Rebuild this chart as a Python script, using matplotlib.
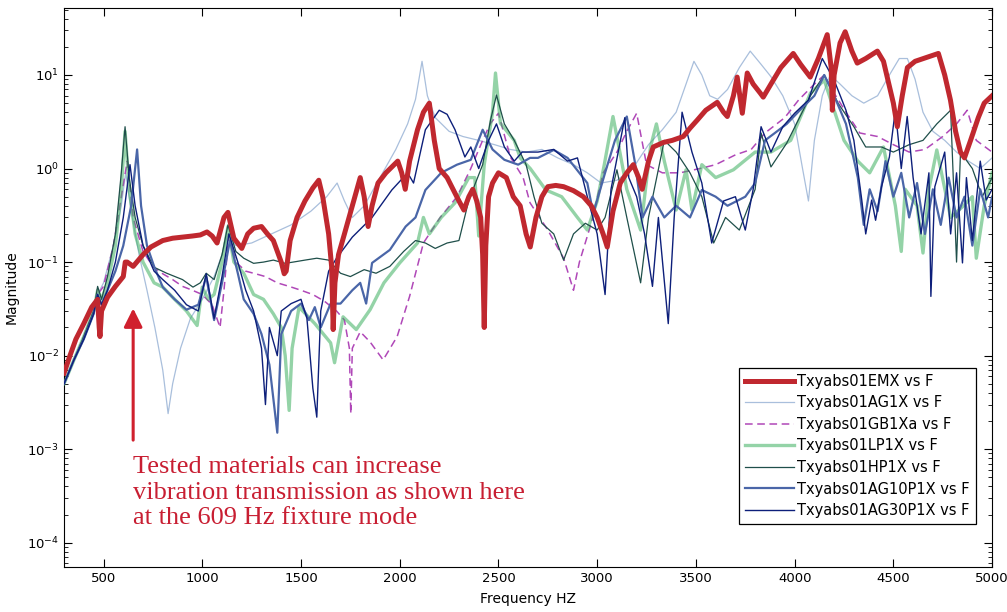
import matplotlib
matplotlib.use("Agg")
import matplotlib.pyplot as plt
from matplotlib.ticker import FixedLocator, LogLocator, NullFormatter

# ---------------- data ----------------
labels = ["Txyabs01EMX vs F", "Txyabs01AG1X vs F", "Txyabs01GB1Xa vs F",
          "Txyabs01LP1X vs F", "Txyabs01HP1X vs F", "Txyabs01AG10P1X vs F",
          "Txyabs01AG30P1X vs F"]

f_emx = [300, 330, 360, 400, 440, 470, 478, 482, 490, 520, 560, 600, 610, 620, 650, 700, 740, 800, 850, 900,
         950, 990, 1024, 1050, 1075, 1110, 1130, 1160, 1200, 1230, 1260, 1300, 1330, 1360, 1380, 1400, 1415,
         1425, 1445, 1480, 1520, 1560, 1590, 1610, 1640, 1655, 1663, 1672, 1690, 1720, 1760, 1800, 1820, 1840,
         1860, 1890, 1930, 1990, 2010, 2028, 2050, 2090, 2120, 2150, 2175, 2200, 2240, 2270, 2300, 2325, 2350,
         2370, 2390, 2410, 2420, 2428, 2436, 2450, 2470, 2500, 2540, 2575, 2610, 2640, 2661, 2690, 2720, 2750,
         2790, 2830, 2880, 2930, 2970, 3000, 3030, 3051, 3080, 3117, 3150, 3183, 3210, 3228, 3260, 3284, 3335,
         3380, 3436, 3470, 3507, 3550, 3608, 3640, 3659, 3690, 3709, 3735, 3760, 3790, 3826, 3841, 3880, 3930,
         3993, 4030, 4079, 4120, 4165, 4185, 4191, 4200, 4230, 4256, 4290, 4317, 4360, 4419, 4450, 4469, 4500,
         4520, 4545, 4571, 4610, 4652, 4690, 4728, 4760, 4789, 4815, 4840, 4860, 4891, 4930, 4960, 5000]
m_emx = [0.0065, 0.01, 0.015, 0.022, 0.033, 0.04, 0.02, 0.016, 0.03, 0.042, 0.055, 0.07, 0.1, 0.1, 0.09, 0.12,
         0.145, 0.17, 0.18, 0.185, 0.19, 0.195, 0.21, 0.19, 0.16, 0.3, 0.34, 0.18, 0.14, 0.2, 0.23, 0.24, 0.2,
         0.17, 0.13, 0.1, 0.075, 0.08, 0.17, 0.3, 0.45, 0.62, 0.75, 0.5, 0.2, 0.09, 0.019, 0.06, 0.12, 0.2, 0.4,
         0.8, 0.5, 0.24, 0.4, 0.7, 0.9, 1.2, 0.9, 0.6, 1.2, 2.6, 4.0, 5.0, 2.0, 1.0, 0.8, 0.6, 0.45, 0.36, 0.5,
         0.6, 0.45, 0.3, 0.12, 0.02, 0.15, 0.5, 0.7, 0.9, 0.8, 0.5, 0.4, 0.2, 0.145, 0.3, 0.5, 0.64, 0.66, 0.64,
         0.58, 0.5, 0.4, 0.3, 0.2, 0.145, 0.35, 0.7, 0.9, 1.1, 0.8, 0.6, 1.2, 1.7, 1.9, 2.0, 2.2, 2.7, 3.3, 4.2,
         5.1, 4.0, 3.6, 6.0, 9.5, 3.9, 10.5, 8.0, 6.4, 5.8, 8.0, 12.0, 17.0, 13.0, 9.5, 15.0, 27.0, 12.0, 4.2,
         10.0, 22.0, 29.0, 18.0, 13.4, 15.0, 18.0, 14.0, 9.5, 5.0, 2.8, 6.0, 12.0, 14.0, 15.0, 16.0, 17.0, 10.0,
         5.4, 2.5, 1.5, 1.3, 2.0, 3.5, 5.0, 6.0]

f_ag1 = [300, 350, 400, 450, 470, 500, 550, 590, 612, 640, 680, 720, 760, 800, 827, 850, 890, 940, 1000, 1060,
         1100, 1130, 1170, 1250, 1350, 1450, 1550, 1630, 1683, 1720, 1760, 1820, 1900, 1980, 2040, 2080, 2113,
         2140, 2180, 2250, 2320, 2400, 2480, 2560, 2640, 2720, 2800, 2880, 2950, 3020, 3100, 3180, 3260, 3330,
         3400, 3450, 3490, 3530, 3570, 3610, 3660, 3720, 3775, 3830, 3880, 3940, 4000, 4040, 4070, 4100, 4140,
         4180, 4230, 4290, 4350, 4420, 4480, 4530, 4571, 4610, 4650, 4700, 4760, 4820, 4880, 4940, 5000]
m_ag1 = [0.005, 0.009, 0.016, 0.03, 0.045, 0.06, 0.15, 0.4, 0.9, 0.35, 0.12, 0.05, 0.02, 0.007, 0.0024, 0.005,
         0.012, 0.025, 0.04, 0.07, 0.12, 0.2, 0.15, 0.16, 0.2, 0.25, 0.35, 0.5, 0.7, 0.45, 0.3, 0.4, 0.8, 1.6,
         3.0, 5.5, 14.0, 6.0, 3.5, 2.5, 2.2, 2.0, 1.8, 1.6, 1.5, 1.6, 1.3, 1.1, 0.9, 0.7, 0.75, 1.0, 1.8, 2.6,
         4.0, 8.0, 14.0, 10.0, 6.0, 5.5, 7.0, 12.0, 18.0, 13.0, 9.6, 6.0, 3.0, 1.0, 0.45, 2.0, 6.0, 10.0, 8.0,
         6.0, 5.0, 6.0, 10.0, 15.0, 15.0, 9.0, 4.0, 2.5, 2.0, 1.5, 1.2, 1.0, 1.3]

f_gb1 = [300, 350, 400, 450, 470, 500, 550, 590, 620, 650, 700, 750, 800, 850, 900, 950, 1000, 1050, 1090, 1110,
         1135, 1170, 1220, 1270, 1320, 1380, 1440, 1500, 1560, 1620, 1680, 1720, 1745, 1752, 1760, 1800, 1850,
         1916, 1987, 2050, 2120, 2205, 2290, 2357, 2420, 2458, 2500, 2560, 2625, 2660, 2750, 2830, 2880, 2910,
         2970, 3030, 3100, 3150, 3200, 3250, 3330, 3420, 3520, 3600, 3700, 3780, 3850, 3950, 4020, 4100, 4150,
         4200, 4260, 4330, 4420, 4500, 4580, 4660, 4750, 4820, 4874, 4920, 5000]
m_gb1 = [0.005, 0.009, 0.016, 0.03, 0.045, 0.055, 0.15, 0.5, 1.2, 0.3, 0.13, 0.09, 0.075, 0.065, 0.055, 0.05,
         0.045, 0.035, 0.02, 0.05, 0.2, 0.1, 0.08, 0.075, 0.07, 0.06, 0.055, 0.05, 0.045, 0.038, 0.03, 0.024,
         0.012, 0.0024, 0.012, 0.018, 0.014, 0.009, 0.016, 0.043, 0.16, 0.3, 0.5, 0.97, 2.0, 3.0, 3.9, 1.33,
         0.8, 0.43, 0.22, 0.11, 0.05, 0.1, 0.26, 0.9, 1.5, 2.5, 3.9, 1.1, 0.9, 0.9, 1.0, 1.1, 1.4, 1.6, 2.4,
         3.5, 5.4, 8.0, 10.0, 6.4, 4.0, 2.4, 2.2, 1.8, 1.5, 1.6, 2.2, 3.0, 4.2, 2.0, 1.5]

f_lp1 = [300, 350, 400, 450, 470, 490, 520, 560, 590, 609, 630, 660, 700, 756, 800, 860, 920, 974, 1000, 1030,
         1060, 1100, 1130, 1160, 1210, 1260, 1310, 1360, 1400, 1420, 1440, 1455, 1490, 1570, 1650, 1670, 1713,
         1780, 1850, 1920, 2000, 2090, 2120, 2150, 2210, 2280, 2350, 2380, 2400, 2428, 2470, 2485, 2510, 2580,
         2610, 2661, 2740, 2820, 2900, 2950, 3000, 3036, 3080, 3110, 3150, 3220, 3270, 3300, 3340, 3400, 3450,
         3480, 3530, 3600, 3690, 3800, 3880, 3980, 4080, 4150, 4250, 4320, 4380, 4450, 4510, 4540, 4560, 4620,
         4650, 4680, 4720, 4790, 4850, 4900, 4920, 4960, 5000]
m_lp1 = [0.005, 0.009, 0.016, 0.03, 0.05, 0.04, 0.06, 0.15, 0.6, 2.5, 0.6, 0.2, 0.1, 0.06, 0.054, 0.04, 0.03,
         0.021, 0.054, 0.04, 0.045, 0.1, 0.24, 0.1, 0.076, 0.045, 0.04, 0.028, 0.02, 0.01, 0.0026, 0.012, 0.033,
         0.022, 0.0137, 0.0084, 0.026, 0.019, 0.031, 0.06, 0.098, 0.16, 0.3, 0.2, 0.3, 0.43, 0.8, 0.8, 0.19, 1.1,
         4.0, 10.5, 3.05, 2.0, 1.3, 1.0, 0.59, 0.5, 0.3, 0.22, 0.45, 1.1, 3.6, 1.7, 0.6, 0.22, 1.7, 3.0, 1.2,
         0.36, 0.97, 0.36, 1.1, 0.8, 0.97, 1.5, 1.5, 2.0, 6.4, 8.8, 2.0, 1.2, 0.9, 1.7, 0.4, 0.13, 0.6, 0.4,
         0.125, 0.6, 1.58, 0.3, 0.39, 0.5, 0.11, 0.4, 0.9]

f_hp1 = [300, 350, 400, 450, 470, 490, 520, 560, 590, 609, 630, 660, 700, 756, 820, 900, 953, 990, 1020, 1060,
         1100, 1130, 1170, 1210, 1260, 1310, 1360, 1420, 1460, 1520, 1580, 1640, 1700, 1750, 1820, 1880, 1950,
         2020, 2080, 2130, 2180, 2240, 2300, 2350, 2420, 2460, 2490, 2530, 2580, 2640, 2680, 2720, 2780, 2830,
         2880, 2940, 3000, 3040, 3100, 3150, 3220, 3260, 3340, 3400, 3470, 3530, 3590, 3650, 3720, 3800, 3830,
         3880, 3960, 4080, 4150, 4220, 4300, 4360, 4440, 4500, 4580, 4650, 4720, 4790, 4820, 4840, 4900, 4950,
         5000]
m_hp1 = [0.005, 0.009, 0.016, 0.03, 0.055, 0.04, 0.07, 0.2, 0.9, 2.8, 0.8, 0.3, 0.15, 0.088, 0.076, 0.065,
         0.054, 0.06, 0.076, 0.065, 0.12, 0.25, 0.13, 0.11, 0.097, 0.1, 0.105, 0.097, 0.1, 0.105, 0.11, 0.105,
         0.076, 0.07, 0.083, 0.076, 0.09, 0.13, 0.17, 0.16, 0.14, 0.16, 0.17, 0.46, 1.1, 3.3, 6.1, 3.0, 2.0, 1.1,
         0.5, 0.26, 0.2, 0.105, 0.2, 0.26, 0.22, 0.3, 0.97, 0.3, 0.06, 0.3, 2.0, 1.5, 0.9, 0.5, 0.16, 0.3, 0.22,
         0.6, 2.4, 1.04, 1.87, 6.0, 10.0, 5.0, 2.8, 1.7, 1.7, 1.5, 1.8, 2.0, 3.0, 4.2, 0.1, 1.5, 1.0, 0.5, 0.8]

f_ag10 = [300, 350, 400, 450, 470, 490, 520, 560, 600, 640, 670, 690, 720, 756, 800, 860, 920, 980, 1020, 1060,
          1100, 1140, 1180, 1210, 1260, 1300, 1340, 1380, 1400, 1450, 1500, 1540, 1570, 1600, 1650, 1700, 1760,
          1800, 1830, 1860, 1950, 2030, 2080, 2130, 2210, 2290, 2360, 2420, 2470, 2530, 2600, 2660, 2700, 2780,
          2850, 2950, 2980, 3040, 3090, 3150, 3190, 3230, 3280, 3340, 3400, 3470, 3530, 3600, 3660, 3750, 3800,
          3850, 3900, 3960, 4040, 4100, 4150, 4200, 4260, 4320, 4350, 4380, 4420, 4460, 4500, 4540, 4580, 4620,
          4660, 4700, 4740, 4780, 4820, 4860, 4900, 4940, 4980, 5000]
m_ag10 = [0.005, 0.009, 0.015, 0.028, 0.045, 0.035, 0.05, 0.08, 0.15, 0.4, 1.6, 0.4, 0.15, 0.09, 0.054, 0.04,
          0.031, 0.035, 0.07, 0.024, 0.06, 0.17, 0.076, 0.04, 0.028, 0.017, 0.008, 0.0015, 0.017, 0.03, 0.036,
          0.024, 0.033, 0.02, 0.036, 0.036, 0.05, 0.06, 0.036, 0.098, 0.135, 0.24, 0.3, 0.59, 0.9, 1.1, 1.24,
          2.6, 1.6, 1.24, 1.1, 1.3, 1.3, 1.58, 1.3, 0.7, 0.33, 0.9, 2.0, 3.6, 1.2, 0.3, 0.5, 0.3, 0.4, 0.3,
          0.59, 0.5, 0.4, 0.5, 0.7, 2.0, 2.4, 3.0, 4.5, 6.0, 10.0, 6.0, 3.0, 0.8, 0.25, 0.6, 0.35, 1.2, 0.5,
          0.9, 0.3, 0.7, 0.2, 0.6, 0.25, 0.8, 0.3, 0.5, 0.15, 0.6, 0.3, 0.5]

f_ag30 = [300, 350, 400, 450, 470, 490, 520, 560, 600, 634, 660, 700, 756, 800, 860, 920, 980, 1020, 1060,
          1100, 1135, 1180, 1220, 1260, 1300, 1320, 1340, 1380, 1400, 1450, 1500, 1530, 1560, 1580, 1600, 1640,
          1680, 1760, 1860, 1960, 2040, 2070, 2130, 2200, 2240, 2280, 2330, 2360, 2400, 2450, 2490, 2530, 2580,
          2620, 2700, 2780, 2850, 2900, 2950, 3000, 3040, 3070, 3140, 3160, 3200, 3240, 3280, 3310, 3360, 3390,
          3430, 3480, 3530, 3580, 3640, 3700, 3750, 3790, 3830, 3880, 3940, 4000, 4070, 4140, 4200, 4260, 4300,
          4340, 4360, 4390, 4410, 4440, 4480, 4510, 4540, 4570, 4600, 4640, 4680, 4690, 4710, 4760, 4790, 4820,
          4850, 4870, 4900, 4940, 4970, 5000]
m_ag30 = [0.005, 0.009, 0.015, 0.028, 0.045, 0.035, 0.05, 0.1, 0.3, 1.1, 0.4, 0.15, 0.08, 0.065, 0.05, 0.035,
          0.03, 0.075, 0.025, 0.07, 0.2, 0.1, 0.05, 0.03, 0.012, 0.003, 0.02, 0.01, 0.03, 0.036, 0.04, 0.025,
          0.0045, 0.0022, 0.03, 0.08, 0.11, 0.185, 0.3, 0.59, 0.9, 0.7, 2.6, 4.2, 3.8, 2.6, 1.33, 1.7, 1.0, 2.0,
          3.0, 1.7, 1.2, 1.5, 1.5, 1.6, 1.2, 1.3, 0.5, 0.2, 0.045, 0.6, 3.5, 0.8, 0.5, 0.2, 0.055, 0.3, 0.022,
          0.3, 4.0, 1.5, 0.7, 0.16, 0.45, 0.5, 0.22, 0.6, 2.8, 1.5, 2.8, 3.9, 5.4, 15.0, 8.8, 4.2, 2.0, 0.46,
          0.2, 0.46, 0.28, 0.64, 1.33, 4.2, 1.0, 3.6, 0.8, 0.2, 0.9, 0.043, 0.64, 1.5, 0.2, 0.9, 0.098, 0.8,
          0.17, 1.2, 0.46, 0.6]

x_ticks = [500, 1000, 1500, 2000, 2500, 3000, 3500, 4000, 4500, 5000]
y_ticks = [1e-4, 1e-3, 1e-2, 1e-1, 1e0, 1e1]

note = "Tested materials can increase\nvibration transmission as shown here\nat the 609 Hz fixture mode"
note_freq = 650
arrow_tail, arrow_head = 0.00125, 0.032
note_top = 0.00085

# ---------------- figure ----------------
fig = plt.figure(figsize=(10.07, 6.12), dpi=100)
ax = fig.add_axes([0.0636, 0.0735, 0.9216, 0.9134])

series = [
    (f_emx, m_emx, dict(color="#c0282f", lw=3.6, zorder=10)),
    (f_ag1, m_ag1, dict(color="#a9bfdc", lw=0.9, zorder=3)),
    (f_gb1, m_gb1, dict(color="#b048b8", lw=1.1, ls=(0, (5, 3)), zorder=4)),
    (f_lp1, m_lp1, dict(color="#3cb060", lw=2.4, alpha=0.55, zorder=5)),
    (f_hp1, m_hp1, dict(color="#1f4f4a", lw=0.9, zorder=6)),
    (f_ag10, m_ag10, dict(color="#4a66a8", lw=1.6, zorder=7)),
    (f_ag30, m_ag30, dict(color="#0d1f7a", lw=1.0, zorder=8)),
]
for (fx, my, st), lab in zip(series, labels):
    ax.plot(fx, my, label=lab, **st)

ax.set_yscale("log")
ax.set_xlim(300, 5000)
ax.set_ylim(5.5e-5, 52)
ax.xaxis.set_major_locator(FixedLocator(x_ticks))
ax.set_yticks(y_ticks)
ax.yaxis.set_minor_locator(LogLocator(base=10, subs=range(2, 10)))
ax.yaxis.set_minor_formatter(NullFormatter())
ax.tick_params(which="both", direction="in", top=True, right=True, labelsize=9.5)
ax.tick_params(which="major", length=6)
ax.tick_params(which="minor", length=3)
ax.set_xlabel("Frequency HZ", fontsize=10, labelpad=5)
ax.set_ylabel("Magnitude", fontsize=10, labelpad=6)

ax.annotate("", xy=(note_freq, arrow_head), xytext=(note_freq, arrow_tail),
            arrowprops=dict(arrowstyle="-|>", color="#d0202e", lw=2.2, mutation_scale=28,
                            shrinkA=0, shrinkB=0), zorder=12)
ax.text(note_freq, note_top, note, color="#c81e32", fontsize=19, family="Liberation Serif",
        va="top", ha="left", linespacing=1.22, zorder=12)

leg = ax.legend(loc="lower right", bbox_to_anchor=(0.99, 0.064), fontsize=10.5,
                handlelength=3.4, handletextpad=0.2, borderpad=0.4, labelspacing=0.45,
                fancybox=False, edgecolor="black", framealpha=1)
leg.get_frame().set_linewidth(0.9)
leg.set_zorder(20)

fig.savefig("out.png", dpi=100)
